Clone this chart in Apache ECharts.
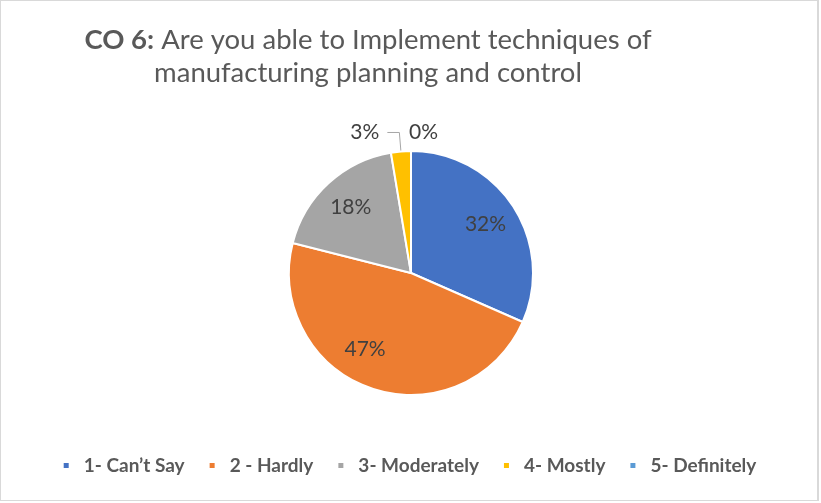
<!DOCTYPE html>
<html>
<head>
<meta charset="utf-8">
<script src="https://cdn.jsdelivr.net/npm/echarts@6/dist/echarts.min.js"></script>
<style>
  html, body { margin: 0; padding: 0; background: #fff; }
  #chart { width: 819px; height: 501px; border: 1px solid #d9d9d9; border-right-width: 2px; box-sizing: border-box; }
</style>
</head>
<body>
<div id="chart"></div>
<script>
// responses per option (38 students)
const categories = ['1- Can\u2019t Say', '2 - Hardly', '3- Moderately', '4- Mostly', '5- Definitely']
const counts = [12, 18, 7, 1, 0]
const colors = ['#4472C4', '#ED7D31', '#A5A5A5', '#FFC000', '#5B9BD5']

const total = counts.reduce((a, b) => a + b, 0)
const pct = v => Math.round(v / total * 100) + '%'
const isSmall = v => v / total < 0.05

const chart = echarts.init(document.getElementById('chart'))

const mainData = categories.map((name, i) => ({
  name,
  value: counts[i],
  itemStyle: { color: colors[i] },
  label: { show: isSmall(counts[i]) },
  labelLine: { show: isSmall(counts[i]) && counts[i] > 0 }
}))

// transparent copy, only used to put the big labels further out than the sector middle
const labelData = categories.map((name, i) => ({
  name,
  value: counts[i],
  label: { show: !isSmall(counts[i]) }
}))

const labelFont = { fontFamily: 'Lato', fontSize: 21, color: '#404040' }

chart.setOption({
  animation: false,
  title: {
    text: '{b|CO 6:} Are you able to Implement techniques of\nmanufacturing planning and control',
    left: 362,
    top: 18,
    textAlign: 'center',
    textStyle: {
      fontFamily: 'Lato',
      fontSize: 27.5,
      fontWeight: 'normal',
      color: '#595959',
      lineHeight: 33,
      rich: {
        b: { fontFamily: 'Lato', fontSize: 27.5, fontWeight: 'bold', color: '#595959', lineHeight: 33 }
      }
    }
  },
  legend: {
    bottom: 20,
    left: 'center',
    icon: 'rect',
    itemWidth: 7,
    itemHeight: 7,
    itemGap: 23,
    textStyle: { fontFamily: 'Lato', fontSize: 19, fontWeight: 'bold', color: '#595959', padding: [0, 0, 0, 9] },
    data: categories
  },
  series: [
    {
      type: 'pie',
      center: [410, 272],
      radius: [0, 122],
      startAngle: 90,
      clockwise: true,
      avoidLabelOverlap: false,
      itemStyle: { borderColor: '#fff', borderWidth: 2 },
      label: {
        position: 'outside',
        formatter: p => pct(p.value),
        distanceToLabelLine: 8,
        ...labelFont
      },
      labelLine: { length: 19, length2: 12, lineStyle: { color: '#a6a6a6', width: 1 } },
      // zero slice sits at the top: put its label on the right of the leader line
      labelLayout: p => (p.dataIndex === 4 ? { align: 'left', dx: 18 } : {}),
      emphasis: { disabled: true },
      data: mainData
    },
    {
      type: 'pie',
      center: [410, 272],
      radius: [0, 172],
      startAngle: 90,
      clockwise: true,
      silent: true,
      itemStyle: { color: 'rgba(0,0,0,0)' },
      label: {
        position: 'inside',
        formatter: p => pct(p.value),
        ...labelFont
      },
      labelLine: { show: false },
      labelLayout: p => (p.dataIndex === 1 ? { dx: -17, dy: -8 } : {}),
      emphasis: { disabled: true },
      data: labelData
    }
  ]
})
</script>
</body>
</html>
